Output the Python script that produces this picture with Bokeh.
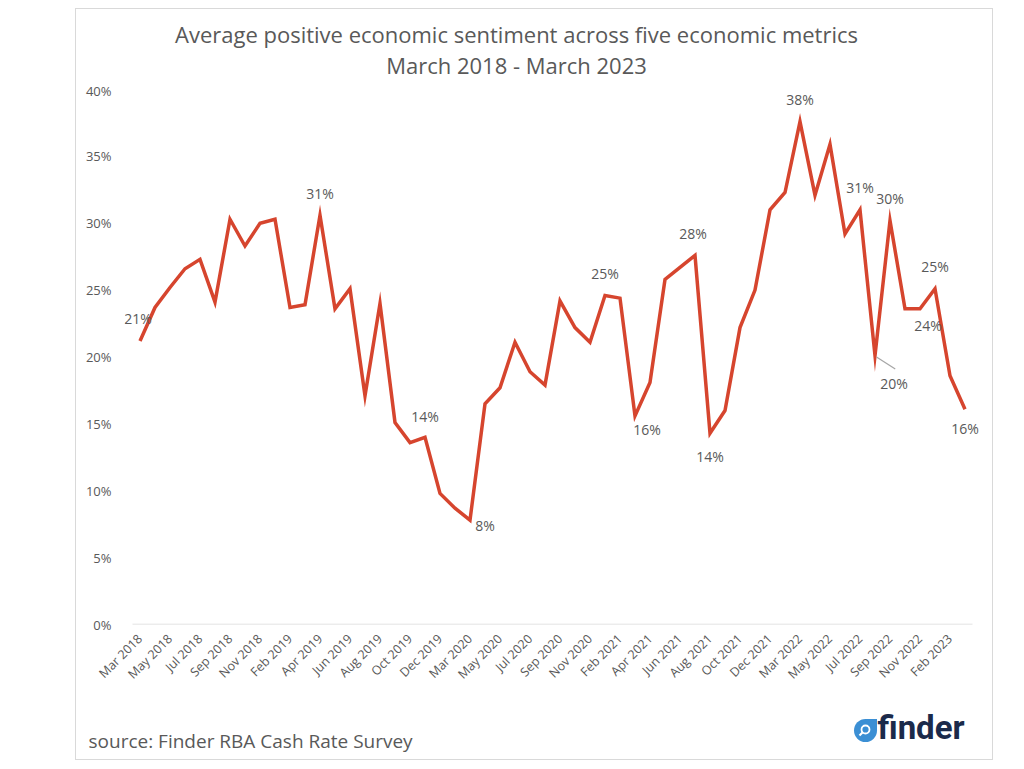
from math import pi
from bokeh.plotting import figure
from bokeh.layouts import column
from bokeh.models import Label, FixedTicker, PrintfTickFormatter, Range1d
from bokeh.embed import file_html
from bokeh.resources import INLINE

months = [
    "Mar 2018", "Apr 2018", "May 2018", "Jun 2018", "Jul 2018", "Aug 2018", "Sep 2018", "Oct 2018", "Nov 2018", "Dec 2018",
    "Feb 2019", "Mar 2019", "Apr 2019", "May 2019", "Jun 2019", "Jul 2019", "Aug 2019", "Sep 2019", "Oct 2019", "Nov 2019", "Dec 2019",
    "Feb 2020", "Mar 2020", "Apr 2020", "May 2020", "Jun 2020", "Jul 2020", "Aug 2020", "Sep 2020", "Oct 2020", "Nov 2020", "Dec 2020",
    "Feb 2021", "Mar 2021", "Apr 2021", "May 2021", "Jun 2021", "Jul 2021", "Aug 2021", "Sep 2021", "Oct 2021", "Nov 2021", "Dec 2021",
    "Feb 2022", "Mar 2022", "Apr 2022", "May 2022", "Jun 2022", "Jul 2022", "Aug 2022", "Sep 2022", "Oct 2022", "Nov 2022", "Dec 2022",
    "Feb 2023", "Mar 2023",
]

sentiment = [
    21.2, 23.7, 25.2, 26.6, 27.3, 24.1, 30.3, 28.3, 30.0, 30.3,
    23.7, 23.9, 30.6, 23.6, 25.1, 17.1, 24.0, 15.1, 13.6, 14.0, 9.8,
    8.7, 7.8, 16.5, 17.7, 21.1, 18.9, 17.9, 24.2, 22.2, 21.1, 24.6,
    24.4, 15.6, 18.1, 25.8, 26.7, 27.6, 14.3, 16.0, 22.2, 25.0, 31.0,
    32.3, 37.6, 32.1, 35.9, 29.2, 31.0, 20.1, 30.2, 23.6, 23.6, 25.1,
    18.6, 16.1,
]

y_ticks = [0, 5, 10, 15, 20, 25, 30, 35, 40]

title_lines = ["Average positive economic sentiment across five economic metrics",
               "March 2018 - March 2023"]
source_text = "source: Finder RBA Cash Rate Survey"
logo_text = "finder"

# indices of months that carry a data label
labelled = [0, 12, 19, 22, 31, 33, 37, 38, 44, 48, 49, 50, 52, 53, 55]
# pixel offsets (dx right, dy up) of each data label
label_offsets = [(-2, 22), (0, 22), (0, 21), (15, -5), (0, 22), (12, -14), (-2, 22), (0, -23),
                 (0, 22), (0, 22), (19, -28), (0, 22), (8, -17), (0, 22), (0, -19)]

TXT = "#595959"
LINE = "#D6452E"
FONT = "Open Sans"
W = 916


def blank(height):
    f = figure(width=W, height=height, output_backend="svg", toolbar_location=None,
               x_axis_type=None, y_axis_type=None,
               x_range=Range1d(0, W), y_range=Range1d(height, 0),
               min_border=0, min_border_left=0, min_border_right=0,
               min_border_top=0, min_border_bottom=0)
    f.frame_align = False
    f.outline_line_color = None
    f.background_fill_color = "white"
    f.border_fill_color = "white"
    return f


# ---- title strip
top = blank(72)
for yy, line in zip([24, 55], title_lines):
    top.add_layout(Label(x=440, y=yy, text=line, text_align="center", text_baseline="middle",
                         text_font=FONT, text_font_size="22px", text_color=TXT))

# ---- main chart
x = list(range(len(months)))
step_px = 15.0
x0 = -0.5 - 8 / step_px
p = figure(width=W, height=611, output_backend="svg", toolbar_location=None,
           x_range=Range1d(x0, x0 + 856 / step_px), y_range=Range1d(0, 40),
           min_border_left=48, min_border_right=12, min_border_top=8, min_border_bottom=68)
p.frame_align = False
p.outline_line_color = None
p.xgrid.grid_line_color = None
p.ygrid.grid_line_color = None
p.background_fill_color = "white"
p.border_fill_color = "white"

# baseline (0%) spanning the category area
p.segment(x0=[-0.5], y0=[0], x1=[len(months) - 0.5], y1=[0], line_color="#d9d9d9", line_width=1.5)

p.line(x, sentiment, line_color=LINE, line_width=3.5, line_join="miter")

ya = p.yaxis[0]
ya.ticker = FixedTicker(ticks=y_ticks)
ya.formatter = PrintfTickFormatter(format="%d%%")
ya.axis_line_color = None
ya.major_tick_line_color = None
ya.minor_tick_line_color = None
ya.major_label_standoff = 7
ya.major_label_text_font = FONT
ya.major_label_text_font_size = "13px"
ya.major_label_text_color = TXT

xa = p.xaxis[0]
even = x[::2]
xa.ticker = FixedTicker(ticks=even)
xa.major_label_overrides = {i: months[i] for i in even}
xa.major_label_orientation = pi / 4
xa.axis_line_color = None
xa.major_tick_line_color = None
xa.minor_tick_line_color = None
xa.major_label_standoff = 6
xa.major_label_text_font = FONT
xa.major_label_text_font_size = "12.5px"
xa.major_label_text_color = TXT

for i, (dx, dy) in zip(labelled, label_offsets):
    p.add_layout(Label(x=i, y=sentiment[i], text=f"{round(sentiment[i])}%", x_offset=dx, y_offset=dy,
                       text_align="center", text_baseline="middle", text_font=FONT,
                       text_font_size="14px", text_color=TXT))

# leader line for the Sep 2022 label
p.segment(x0=[49.1], y0=[sentiment[49] - 0.1], x1=[50.35], y1=[sentiment[49] - 1.0],
          line_color="#a6a6a6", line_width=1.2)

# ---- source / logo strip
bot = blank(67)
bot.add_layout(Label(x=12, y=48, text=source_text, text_align="left", text_baseline="middle",
                     text_font=FONT, text_font_size="19px", text_color=TXT))
# logo drop
bot.scatter([789], [38], marker="circle", size=23, fill_color="#3b8fd4", line_color=None)
bot.scatter([795], [32], marker="square", size=11, fill_color="#3b8fd4", line_color=None)
bot.scatter([789], [37], marker="circle", size=8, fill_color=None, line_color="white", line_width=1.8)
bot.segment(x0=[786], y0=[40], x1=[783], y1=[43], line_color="white", line_width=2.2)
bot.add_layout(Label(x=801, y=35, text=logo_text, text_align="left", text_baseline="middle",
                     text_font="Roboto", text_font_style="bold", text_font_size="33px",
                     text_color="#1b2a4a"))

layout = column(top, p, bot, spacing=0)
layout.margin = (8, 0, 0, 75)
layout.styles = {"border": "1px solid #d9d9d9"}

open("out.html", "w").write(file_html(layout, INLINE))
